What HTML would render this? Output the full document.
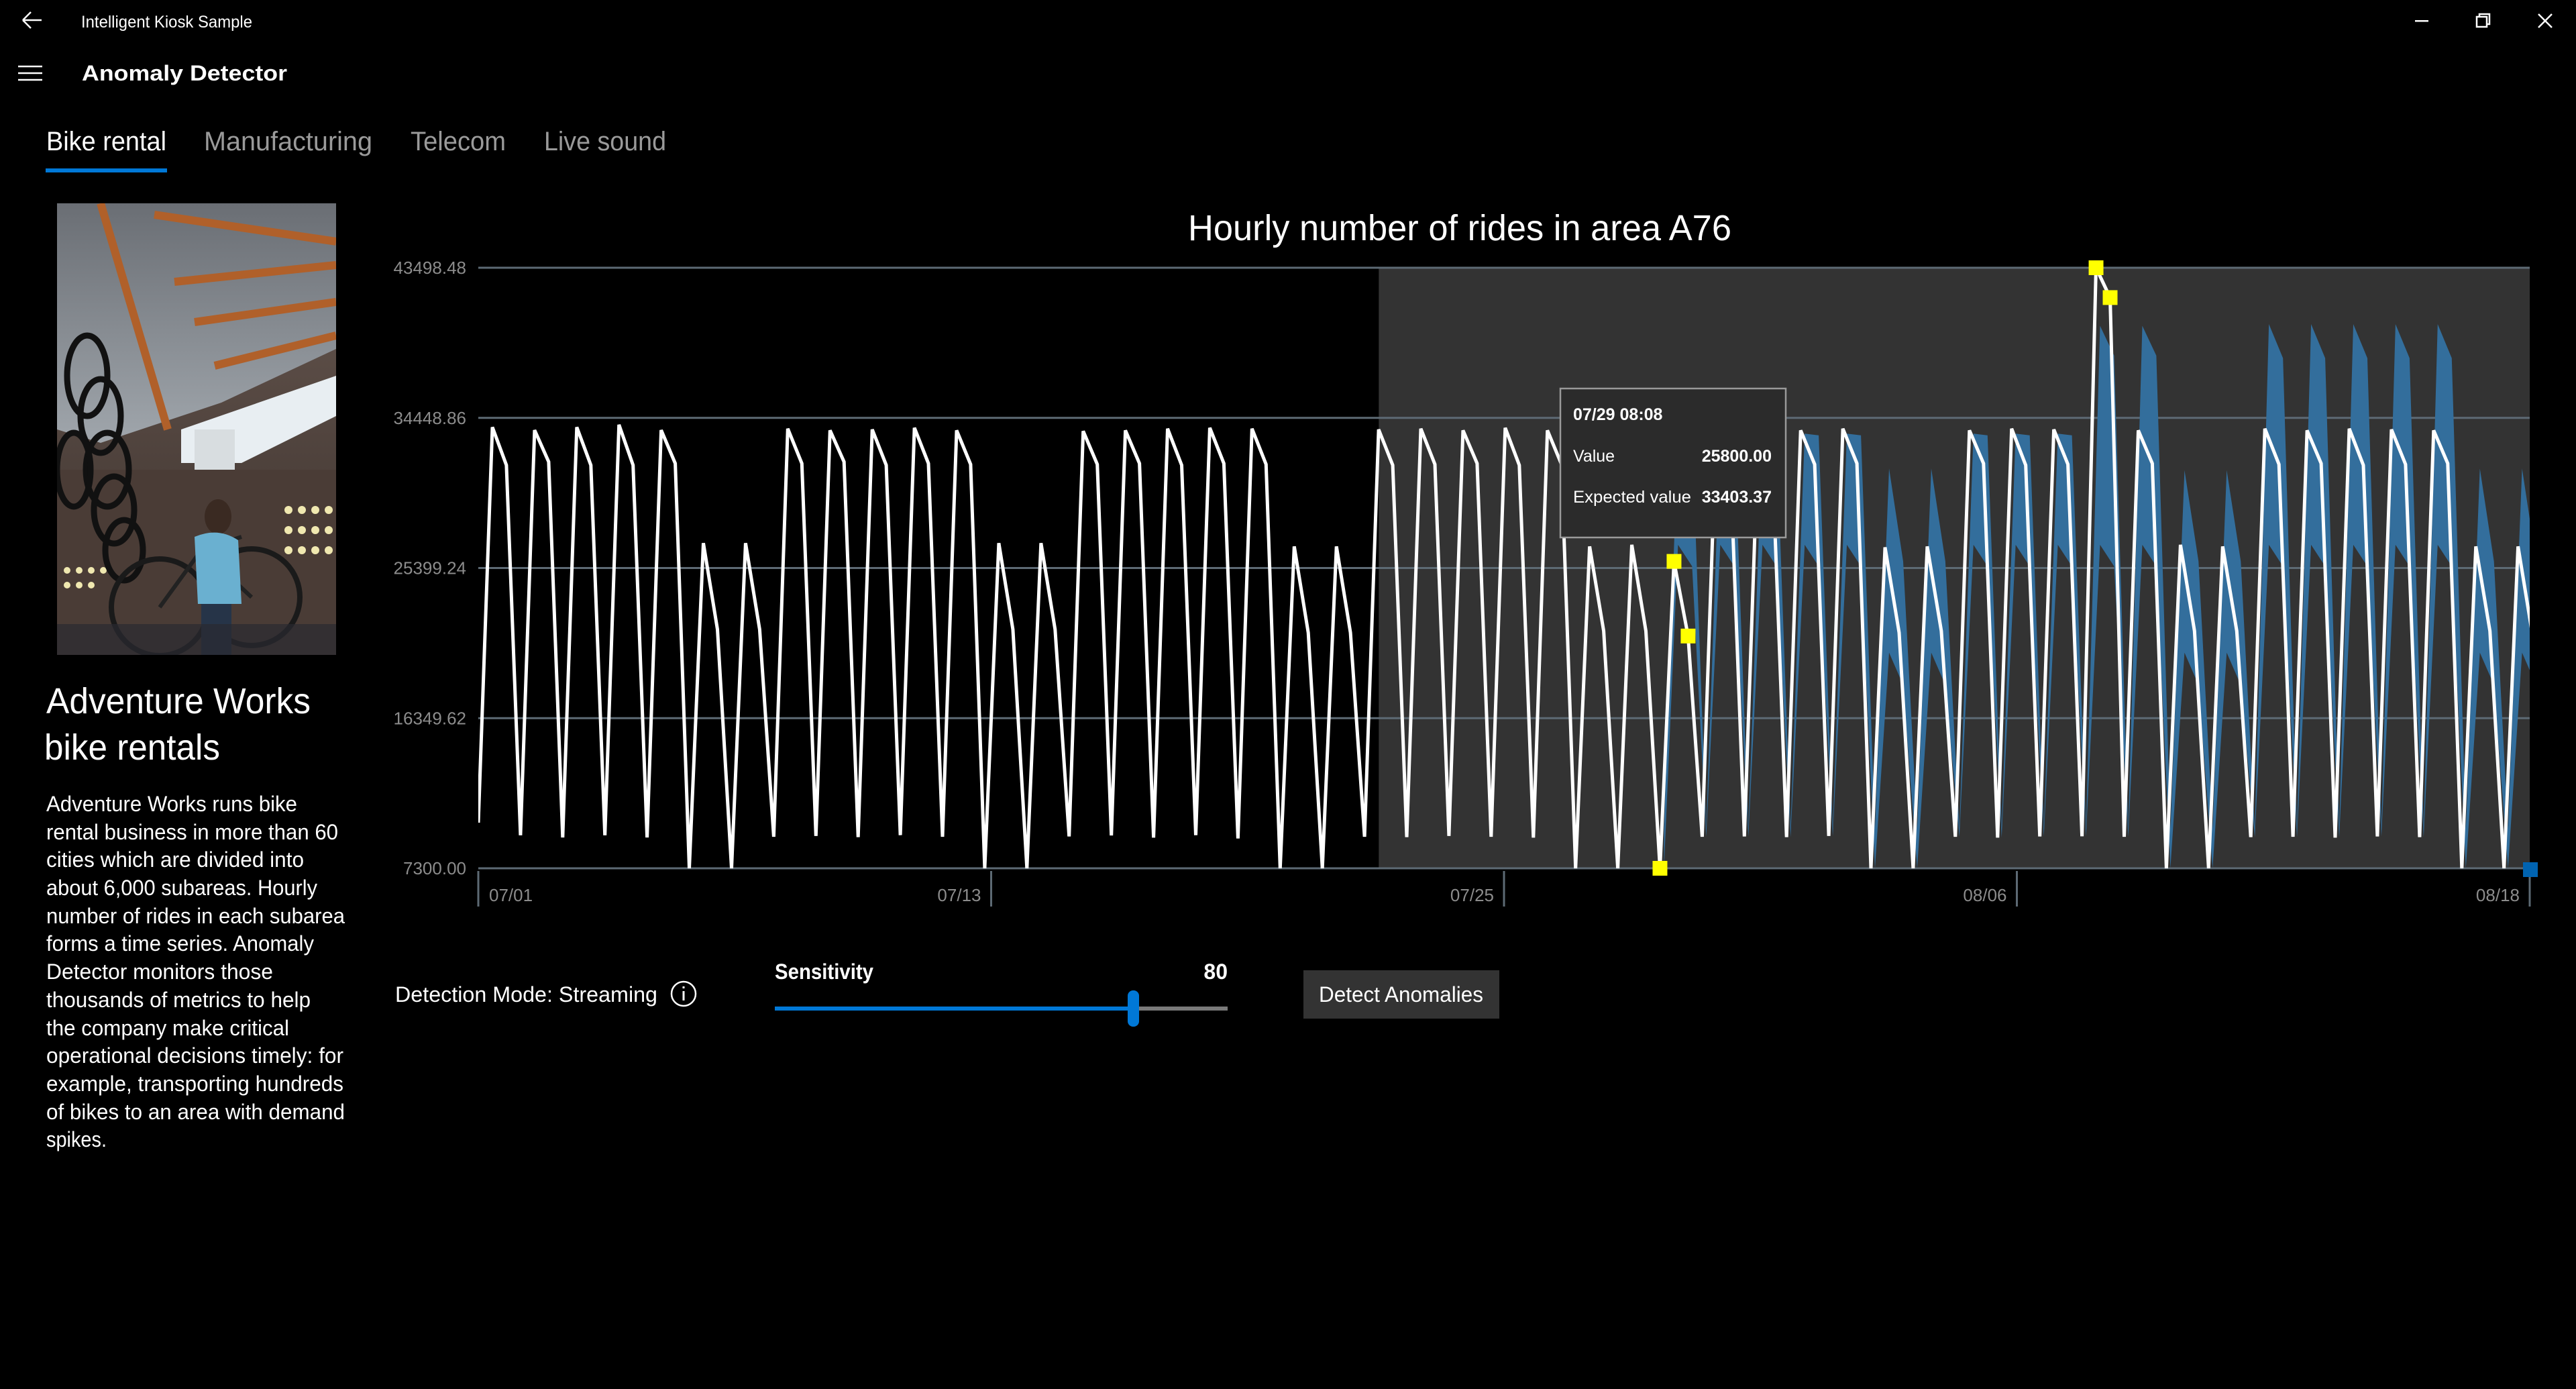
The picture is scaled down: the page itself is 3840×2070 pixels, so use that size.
<!DOCTYPE html>
<html><head><meta charset="utf-8"><title>Anomaly Detector</title>
<style>
html,body{margin:0;padding:0;background:#000;width:3840px;height:2070px;overflow:hidden;}
svg{display:block;}
text{font-family:"Liberation Sans",sans-serif;}
</style></head>
<body>
<svg id="page" width="3840" height="2070" viewBox="0 0 3840 2070" xmlns="http://www.w3.org/2000/svg">
  <rect x="0" y="0" width="3840" height="2070" fill="#000"/>
  <g>
    <path d="M34 30 H62 M34 30 L46 18 M34 30 L46 42" stroke="#fff" stroke-width="2.5" fill="none"/>
  </g>
  <text x="121" y="41" font-size="25" fill="#fff" textLength="255" lengthAdjust="spacingAndGlyphs">Intelligent Kiosk Sample</text>
  <rect x="3600" y="30" width="20" height="2.5" fill="#fff"/>
  <g fill="none" stroke="#fff" stroke-width="2.5">
    <rect x="3692" y="25" width="15" height="15"/><path d="M3696 25 V21 H3711 V36 H3707"/>
  </g>
  <path d="M3784 21 L3804 41 M3804 21 L3784 41" stroke="#fff" stroke-width="2.5"/>
  <g stroke="#fff" stroke-width="2.5">
    <path d="M27 99 H63 M27 109 H63 M27 119 H63"/>
  </g>
  <text x="122" y="120" font-size="32" font-weight="bold" fill="#fff" textLength="306" lengthAdjust="spacingAndGlyphs">Anomaly Detector</text>
  <text x="69" y="224" font-size="40" fill="#fff" textLength="179" lengthAdjust="spacingAndGlyphs">Bike rental</text>
  <text x="304" y="224" font-size="40" fill="#9a9a9a" textLength="251" lengthAdjust="spacingAndGlyphs">Manufacturing</text>
  <text x="612" y="224" font-size="40" fill="#9a9a9a" textLength="142" lengthAdjust="spacingAndGlyphs">Telecom</text>
  <text x="811" y="224" font-size="40" fill="#9a9a9a" textLength="182" lengthAdjust="spacingAndGlyphs">Live sound</text>
  <rect x="68" y="251" width="181" height="6" fill="#0078d7"/>

  <g>
    <defs>
      <clipPath id="photoClip"><rect x="85" y="303" width="416" height="673"/></clipPath>
      <linearGradient id="ceil" x1="0" y1="0" x2="0" y2="1">
        <stop offset="0" stop-color="#6a6e74"/><stop offset="1" stop-color="#a0a6ac"/>
      </linearGradient>
      <linearGradient id="wall" x1="0" y1="0" x2="0" y2="1">
        <stop offset="0" stop-color="#6a5a52"/><stop offset="1" stop-color="#3a302c"/>
      </linearGradient>
    </defs>
    <g clip-path="url(#photoClip)">
      <rect x="85" y="303" width="416" height="673" fill="url(#wall)"/>
      <polygon points="85,303 501,303 501,520 330,600 150,660 85,640" fill="url(#ceil)"/>
      <path d="M150 303 L250 640 M230 320 L501 360 M260 420 L501 395 M290 480 L501 450 M320 545 L501 500" stroke="#b0602a" stroke-width="12"/>
      <polygon points="270,640 501,560 501,620 360,690 270,690" fill="#e8eef2"/>
      <rect x="290" y="640" width="60" height="60" fill="#d8dde0"/>
      <rect x="85" y="700" width="416" height="276" fill="#4a3c36"/>
      <g fill="#f0e8b0">
        <circle cx="430" cy="760" r="6"/><circle cx="450" cy="760" r="6"/><circle cx="470" cy="760" r="6"/><circle cx="490" cy="760" r="6"/>
        <circle cx="430" cy="790" r="6"/><circle cx="450" cy="790" r="6"/><circle cx="470" cy="790" r="6"/><circle cx="490" cy="790" r="6"/>
        <circle cx="430" cy="820" r="6"/><circle cx="450" cy="820" r="6"/><circle cx="470" cy="820" r="6"/><circle cx="490" cy="820" r="6"/>
        <circle cx="100" cy="850" r="5"/><circle cx="118" cy="850" r="5"/><circle cx="136" cy="850" r="5"/><circle cx="154" cy="850" r="5"/>
        <circle cx="100" cy="872" r="5"/><circle cx="118" cy="872" r="5"/><circle cx="136" cy="872" r="5"/>
      </g>
      <g fill="none" stroke="#111" stroke-width="9">
        <ellipse cx="130" cy="560" rx="30" ry="60"/><ellipse cx="150" cy="620" rx="30" ry="55"/>
        <ellipse cx="160" cy="700" rx="32" ry="55"/><ellipse cx="170" cy="760" rx="30" ry="50"/>
        <ellipse cx="185" cy="820" rx="28" ry="45"/><ellipse cx="110" cy="700" rx="25" ry="55"/>
      </g>
      <circle cx="238" cy="905" r="72" fill="none" stroke="#1a1a1a" stroke-width="8"/>
      <circle cx="375" cy="890" r="72" fill="none" stroke="#1a1a1a" stroke-width="8"/>
      <path d="M238 905 L300 820 L375 890 M300 820 L360 800" stroke="#222" stroke-width="6" fill="none"/>
      <ellipse cx="325" cy="770" rx="20" ry="26" fill="#3a2a22"/>
      <path d="M290 800 Q325 785 355 805 L360 900 L295 900 Z" fill="#6ab0d0"/>
      <rect x="300" y="900" width="45" height="76" fill="#263448"/>
      <rect x="85" y="930" width="416" height="46" fill="#2a2a30" opacity="0.7"/>
    </g>
  </g>

  <text x="69" y="1063" font-size="54" fill="#fff" textLength="394" lengthAdjust="spacingAndGlyphs">Adventure Works</text>
  <text x="66" y="1132" font-size="54" fill="#fff" textLength="262" lengthAdjust="spacingAndGlyphs">bike rentals</text>
  <g font-size="32" fill="#fff">
    <text x="69" y="1209" textLength="374" lengthAdjust="spacingAndGlyphs">Adventure Works runs bike</text>
    <text x="69" y="1251" textLength="435" lengthAdjust="spacingAndGlyphs">rental business in more than 60</text>
    <text x="69" y="1292" textLength="384" lengthAdjust="spacingAndGlyphs">cities which are divided into</text>
    <text x="69" y="1334" textLength="404" lengthAdjust="spacingAndGlyphs">about 6,000 subareas. Hourly</text>
    <text x="69" y="1376" textLength="445" lengthAdjust="spacingAndGlyphs">number of rides in each subarea</text>
    <text x="69" y="1417" textLength="399" lengthAdjust="spacingAndGlyphs">forms a time series. Anomaly</text>
    <text x="69" y="1459" textLength="338" lengthAdjust="spacingAndGlyphs">Detector monitors those</text>
    <text x="69" y="1501" textLength="394" lengthAdjust="spacingAndGlyphs">thousands of metrics to help</text>
    <text x="69" y="1543" textLength="362" lengthAdjust="spacingAndGlyphs">the company make critical</text>
    <text x="69" y="1584" textLength="443" lengthAdjust="spacingAndGlyphs">operational decisions timely: for</text>
    <text x="69" y="1626" textLength="443" lengthAdjust="spacingAndGlyphs">example, transporting hundreds</text>
    <text x="69" y="1668" textLength="445" lengthAdjust="spacingAndGlyphs">of bikes to an area with demand</text>
    <text x="69" y="1709" textLength="90" lengthAdjust="spacingAndGlyphs">spikes.</text>
  </g>

  <text x="1771" y="358" font-size="54" fill="#fff" textLength="810" lengthAdjust="spacingAndGlyphs">Hourly number of rides in area A76</text>
  <g id="chart"></g>

  <text x="589" y="1493" font-size="32" fill="#fff" textLength="391" lengthAdjust="spacingAndGlyphs">Detection Mode:  Streaming</text>
  <g>
    <circle cx="1019" cy="1481" r="18" fill="none" stroke="#fff" stroke-width="2.5"/>
    <rect x="1017.5" y="1477" width="3" height="14" fill="#fff"/><rect x="1017.5" y="1470" width="3" height="3" fill="#fff"/>
  </g>
  <text x="1155" y="1459" font-size="32" font-weight="bold" fill="#fff" textLength="147" lengthAdjust="spacingAndGlyphs">Sensitivity</text>
  <text x="1830" y="1459" font-size="32" font-weight="bold" fill="#fff" text-anchor="end">80</text>
  <g>
    <rect x="1155" y="1500" width="675" height="6" fill="#7a7a7a"/>
    <rect x="1155" y="1500" width="535" height="6" fill="#0078d7"/>
    <rect x="1681" y="1476" width="17" height="54" rx="8" fill="#0078d7"/>
  </g>
  <g>
    <rect x="1943" y="1446" width="292" height="72" fill="#333333"/>
    <text x="1966" y="1493" font-size="32" fill="#fff" textLength="245" lengthAdjust="spacingAndGlyphs">Detect Anomalies</text>
  </g>
</svg>
<script>
const dayLows = [10050,9290,9160,9290,9160,7300,7300,9200,9250,9180,9300,9200,7300,7300,9220,9280,9150,9300,9100,7300,7300,9200,9180,9250,9200,9150,7300,7300,7300,9200,9220,9180,9250,7300,7300,9200,9150,9220,9230,9200,7300,7300,9180,9200,9150,9220,9180,7300,7300];
const dayPeaks = [33890,33710,33890,34036,33710,26900,26900,33800,33700,33750,33850,33700,26900,26900,33650,33700,33800,33850,33800,26700,26700,33750,33800,33700,33850,33700,26700,26800,25800,33800,33750,33700,33800,26650,26700,33700,33800,33750,43498,33700,26800,26700,33800,33700,33800,33750,33700,26700,26700];
const dayShoulders = [31600,31800,31600,31600,31700,21700,21700,31700,31800,31600,31700,31650,21700,21700,31650,31700,31600,31700,31650,21500,21500,31600,31650,31700,31600,31650,21600,21600,21300,31700,31600,31650,31700,21500,21600,31700,31600,31650,41700,31700,21600,21600,31650,31700,31600,31650,31700,21600,21500];
const bandStartDay = 28;
const bandUpPeak = [33500,33500,33500,33500,33500,31400,31400,33500,33500,33500,40000,40000,31300,31300,40100,40100,40100,40100,40100,31400,31400];
const bandUpShoulder = [33400,33400,33400,33400,33400,25800,25800,33400,33400,33400,38200,38200,25800,25800,38050,38050,38050,38050,38050,25800,25800];
const bandLoPeak = [26800,26800,26800,26800,26800,20300,20300,26800,26800,26800,26800,26800,20300,20300,26800,26800,26800,26800,26800,20300,20300];
const bandLoShoulder = [25500,25500,25500,25500,25500,18350,18350,25500,25500,25500,25500,25500,18350,18350,25500,25500,25500,25500,25500,18350,18350];
const bandLowUp = [9700,9700,9700,9700,9700,9700,9700,9700,9700,9700,9700,9700,9700,9700,9700,9700,9700,9700,9700,9700,9700];
const anomalyPoints = [84,85,86,115,116];
const yTicks = [7300.00,16349.62,25399.24,34448.86,43498.48];
const xTickDays = [0,12,24,36,48];
const xTickLabels = ["07/01","07/13","07/25","08/06","08/18"];
const shadeStartDay = 21.07;
const tooltipDate = "07/29 08:08";
const tooltipValue = "25800.00";
const tooltipExpected = "33403.37";

const NS = "http://www.w3.org/2000/svg";
const PX0 = 713, PX1 = 3771, PY0 = 1294, PY1 = 399;
const YMIN = 7300, YMAX = 43498.48;
const nDays = dayLows.length;
const pointStep = 20.97;
function xPoint(i){ return PX0 + i*pointStep; }
function xDay(d){ return PX0 + d*(PX1-PX0)/48; }
function y(v){ return PY0 - (v-YMIN)/(YMAX-YMIN)*(PY0-PY1); }
const values = [];
for (let d=0; d<nDays; d++){ values.push(dayLows[d], dayPeaks[d], dayShoulders[d]); }

const chart = document.getElementById('chart');
function mk(tag, attrs, parent){
  const e = document.createElementNS(NS, tag);
  for (const k in attrs) e.setAttribute(k, attrs[k]);
  (parent||chart).appendChild(e);
  return e;
}
const defs = mk('defs', {});
const cp = mk('clipPath', {id:'plotClip'}, defs);
mk('rect', {x:PX0, y:PY1-30, width:PX1-PX0, height:PY0-PY1+60}, cp);

const shade = mk('rect', {x:xDay(shadeStartDay), y:PY1, width:PX1-xDay(shadeStartDay), height:PY0-PY1, fill:'#333333'});



yTicks.forEach((t, k) => {
  const g = mk('line', {x1:PX0, x2:PX1, y1:y(t), y2:y(t), stroke:'#5d6a74', 'stroke-width':3});
  
  
  const lb = mk('text', {x:695, y:y(t)+9, 'font-size':26, fill:'#8c8c8c', 'text-anchor':'end'});
  lb.textContent = t.toFixed(2);
  
  
});

const bandG = mk('g', {'clip-path':'url(#plotClip)'});


let up = [], lo = [];
for (let k=0; k<bandUpPeak.length; k++){
  const d = bandStartDay + k, i = d*3;
  up.push([xPoint(i)+6, bandLowUp[k]]); lo.push([xPoint(i)+6, dayLows[d]]);
  up.push([xPoint(i+1)+6, bandUpPeak[k]]); lo.push([xPoint(i+1)+6, bandLoPeak[k]]);
  up.push([xPoint(i+2)+6, bandUpShoulder[k]]); lo.push([xPoint(i+2)+6, bandLoShoulder[k]]);
}
const pts = up.map(p => p[0].toFixed(1)+','+y(p[1]).toFixed(1))
  .concat(lo.slice().reverse().map(p => p[0].toFixed(1)+','+y(p[1]).toFixed(1))).join(' ');
const band = mk('polygon', {points:pts, fill:'#336e9c'}, bandG);



const ax = mk('line', {x1:PX0, x2:PX1, y1:PY0, y2:PY0, stroke:'#5d6a74', 'stroke-width':3});


xTickDays.forEach((d, k) => {
  const x = xDay(d);
  const t = mk('line', {x1:x, x2:x, y1:1298, y2:1351, stroke:'#5d6a74', 'stroke-width':3});
  
  
  const lb = mk('text', k===0 ? {x:x+16, y:1343, 'font-size':26, fill:'#8c8c8c'} : {x:x-15, y:1343, 'font-size':26, fill:'#8c8c8c', 'text-anchor':'end'});
  lb.textContent = xTickLabels[k];
  
  
});

const lineG = mk('g', {'clip-path':'url(#plotClip)'});
const path = mk('polyline', {points: values.map((v,i)=>xPoint(i).toFixed(1)+','+y(v).toFixed(1)).join(' '), fill:'none', stroke:'#fff', 'stroke-width':5, 'stroke-linejoin':'miter', 'stroke-miterlimit':3}, lineG);



anomalyPoints.forEach(i => {
  const m = mk('rect', {x:xPoint(i)-11, y:y(values[i])-11, width:22, height:22, fill:'#ffff00'});
  
  
});
const cur = mk('rect', {x:PX1-10, y:PY0-9, width:22, height:22, fill:'#0063b1'});



const tip = mk('g', {});


mk('rect', {x:2326, y:579, width:336, height:222, fill:'#2b2b2b', stroke:'#9a9a9a', 'stroke-width':2.5}, tip);
const t1 = mk('text', {x:2345, y:626, 'font-size':25, 'font-weight':'bold', fill:'#fff'}, tip); t1.textContent = tooltipDate;
const t2 = mk('text', {x:2345, y:688, 'font-size':25, fill:'#fff'}, tip); t2.textContent = 'Value';
const t3 = mk('text', {x:2641, y:688, 'font-size':25, 'font-weight':'bold', fill:'#fff', 'text-anchor':'end'}, tip); t3.textContent = tooltipValue;
const t4 = mk('text', {x:2345, y:749, 'font-size':25, fill:'#fff', textLength:176, lengthAdjust:'spacingAndGlyphs'}, tip); t4.textContent = 'Expected value';
const t5 = mk('text', {x:2641, y:749, 'font-size':25, 'font-weight':'bold', fill:'#fff', 'text-anchor':'end'}, tip); t5.textContent = tooltipExpected;
</script>
</body></html>
